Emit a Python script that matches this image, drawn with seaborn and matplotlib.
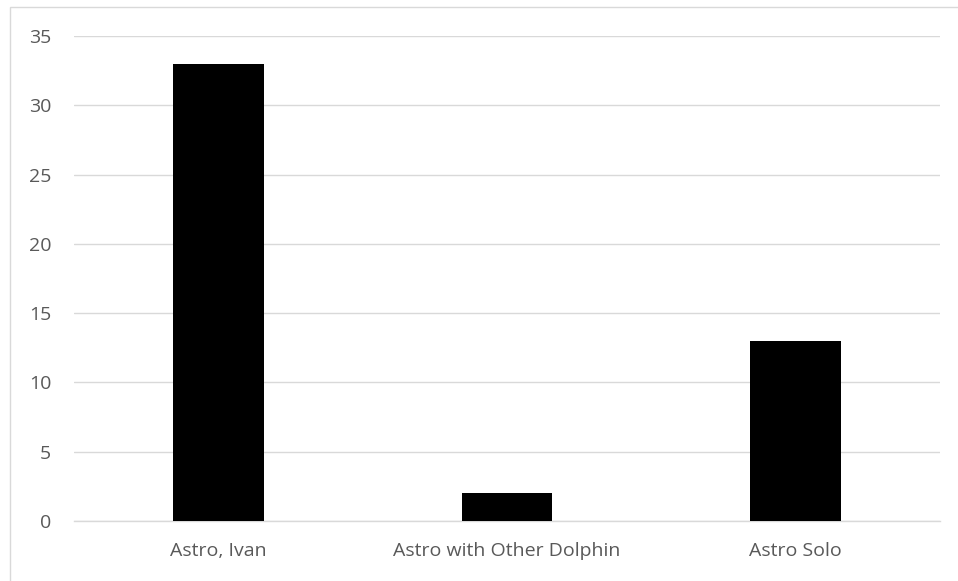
import matplotlib
matplotlib.use("Agg")
import matplotlib.pyplot as plt
from matplotlib.patches import Rectangle
import seaborn as sns
import pandas as pd

categories = ["Astro, Ivan", "Astro with Other Dolphin", "Astro Solo"]
counts = [33, 2, 13]
y_ticks = [0, 5, 10, 15, 20, 25, 30, 35]

sns.set_style("white")
plt.rcParams["font.family"] = ["Open Sans", "DejaVu Sans"]

df = pd.DataFrame({"category": categories, "count": counts})

fig = plt.figure(figsize=(9.58, 5.81), dpi=100)
ax = fig.add_axes([74 / 958, 60 / 581, 866 / 958, 485 / 581])

sns.barplot(data=df, x="category", y="count", color="black", saturation=1,
            width=0.315, linewidth=0, ax=ax, zorder=3)

ax.set_ylim(0, 35)
ax.set_xlim(-0.5, 2.5)
ax.set_yticks(y_ticks)
ax.yaxis.grid(True, color="#d9d9d9", linewidth=1.0, zorder=0)
ax.set_axisbelow(True)
for side in ["top", "right", "left"]:
    ax.spines[side].set_visible(False)
ax.spines["bottom"].set_color("#d9d9d9")
ax.spines["bottom"].set_linewidth(1.0)
ax.tick_params(axis="both", length=0, labelsize=14, labelcolor="#595959")
ax.tick_params(axis="y", pad=16.5)
ax.tick_params(axis="x", pad=15)
ax.set_xlabel("")
ax.set_ylabel("")

# chart frame
fig.patches.append(Rectangle((10 / 958, -0.1), 1.0, (581 - 7) / 581 + 0.1,
                             transform=fig.transFigure, fill=False,
                             edgecolor="#d9d9d9", linewidth=1.0))

fig.savefig("out.png", dpi=100)
